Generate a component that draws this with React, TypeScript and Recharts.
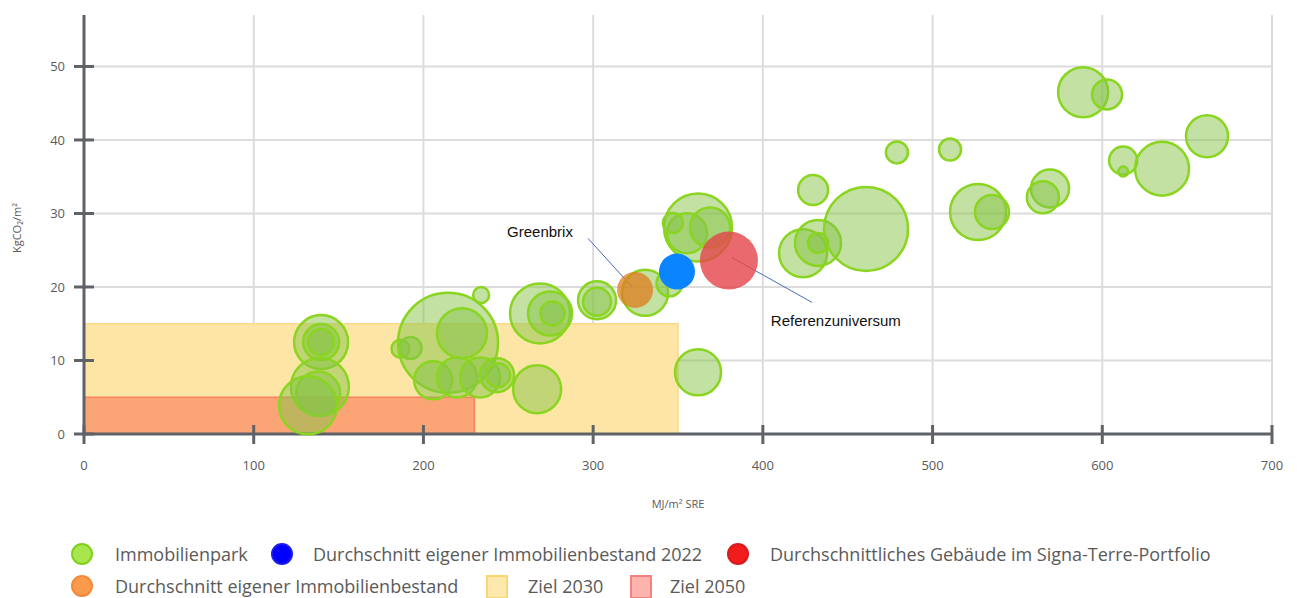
import React from "react";
import {
  ScatterChart,
  Scatter,
  XAxis,
  YAxis,
  ZAxis,
  CartesianGrid,
  ReferenceArea,
  ReferenceLine,
  ReferenceDot,
} from "recharts";

// Immobilienpark: Energie (MJ/m² SRE), Emissionen (KgCO2/m²), Gewicht (Blasengrösse)
const parkEnergy = [
  139.7, 139.7, 139.7, 139, 138, 132, 186.5, 192.4, 214.5, 222.7, 234, 205.7, 219.8, 233.4, 243.4, 244,
  267, 268.7, 274.6, 276, 302.3, 302.3, 330.6, 345, 361.8, 355.3, 368.9, 347, 361.8, 423.7, 432.5, 432.5,
  429.6, 460.8, 479, 510.3, 526.8, 535, 569.2, 565, 588.7, 602.8, 612.3, 612.3, 635.2, 661.7,
];
const parkEmission = [
  12.5, 12.5, 12.5, 6.4, 5.5, 3.9, 11.6, 11.7, 12.4, 13.7, 18.9, 7.3, 7.7, 7.7, 8.0, 8.0,
  6.1, 16.4, 16.4, 16.4, 18.2, 18.0, 19.2, 20.5, 28.1, 27.3, 28.1, 28.7, 8.4, 24.6, 26.0, 26.0,
  33.2, 27.9, 38.3, 38.7, 30.2, 30.2, 33.4, 32.2, 46.5, 46.2, 37.2, 35.7, 36.1, 40.5,
];
const parkWeight = [
  729, 324, 169, 841, 484, 841, 81, 121, 2500, 625, 64, 361, 400, 400, 289, 144,
  576, 900, 484, 144, 361, 196, 529, 169, 1156, 400, 400, 100, 529, 576, 529, 100,
  225, 1764, 121, 121, 784, 289, 361, 256, 625, 225, 196, 25, 729, 441,
];

const avgOwn = [{ x: 324.7, y: 19.6, z: 324 }];
const avgOwn2022 = [{ x: 349.4, y: 22.1, z: 324 }];
const avgReference = [{ x: 380, y: 23.6, z: 841 }];

const xTicks = [0, 100, 200, 300, 400, 500, 600, 700];
const yTicks = [0, 10, 20, 30, 40, 50];

const parkData = parkEnergy.map((x, i) => ({ x, y: parkEmission[i], z: parkWeight[i] }));

const axisColor = "#5f6368";
const textColor = "#5a5a5a";

const XTick = (props: any) => {
  const { x, y, payload } = props;
  return (
    <g>
      <line x1={x} x2={x} y1={y - 9} y2={y + 10} stroke={axisColor} strokeWidth={3} />
      <text x={x} y={y + 36} textAnchor="middle" fill={textColor} fontSize={13} fontFamily="Open Sans">
        {payload.value}
      </text>
    </g>
  );
};

const YTick = (props: any) => {
  const { x, y, payload } = props;
  return (
    <g>
      <line x1={x - 10} x2={x + 10} y1={y} y2={y} stroke={axisColor} strokeWidth={3} />
      <text x={x - 19} y={y + 5} textAnchor="end" fill={textColor} fontSize={13} fontFamily="Open Sans">
        {payload.value}
      </text>
    </g>
  );
};

const Note = (text: string) => (p: any) => (
  <text x={p.cx} y={p.cy} textAnchor="middle" dominantBaseline="middle" fill="#111" fontSize={15} fontFamily="Liberation Sans, Arial">
    {text}
  </text>
);

const YTitle = () => (
  <text
    x={10}
    y={220}
    transform="rotate(-90 10 220)"
    textAnchor="middle"
    dominantBaseline="middle"
    fill={textColor}
    fontSize={11}
    fontFamily="Open Sans"
  >
    KgCO₂/m²
  </text>
);

const LegendCircle = ({ fill, stroke }: { fill: string; stroke: string }) => (
  <svg width={24} height={24} style={{ display: "block" }}>
    <circle cx={12} cy={12} r={10} fill={fill} stroke={stroke} strokeWidth={2} />
  </svg>
);
const LegendSquare = ({ fill, stroke }: { fill: string; stroke: string }) => (
  <svg width={24} height={26} style={{ display: "block" }}>
    <rect x={2} y={2} width={20} height={22} fill={fill} stroke={stroke} strokeWidth={2} />
  </svg>
);

const legendItems = [
  { label: "Immobilienpark", icon: <LegendCircle fill="#a9e64e" stroke="#7fd11b" />, ix: 74, tx: 107, cy: 546 },
  { label: "Durchschnitt eigener Immobilienbestand 2022", icon: <LegendCircle fill="#0000ff" stroke="#1a1aee" />, ix: 274, tx: 305, cy: 546 },
  { label: "Durchschnittliches Gebäude im Signa-Terre-Portfolio", icon: <LegendCircle fill="#f11d1d" stroke="#d81a1a" />, ix: 730, tx: 762, cy: 546 },
  { label: "Durchschnitt eigener Immobilienbestand", icon: <LegendCircle fill="#f99a4c" stroke="#f3893a" />, ix: 74, tx: 107, cy: 578 },
  { label: "Ziel 2030", icon: <LegendSquare fill="#fde9ad" stroke="#fbd773" />, ix: 489, tx: 520, cy: 578 },
  { label: "Ziel 2050", icon: <LegendSquare fill="#fdb4ac" stroke="#f58080" />, ix: 633, tx: 662, cy: 578 },
];

export default function App() {
  return (
    <div style={{ position: "relative", width: 1281, height: 590, background: "#fff" }}>
      <ScatterChart width={1281} height={520} margin={{ top: 7, right: 17, bottom: 0, left: 0 }}>
        <CartesianGrid stroke="#dcdcdc" strokeWidth={2} horizontalValues={yTicks} verticalValues={xTicks.slice(1)} />
        <XAxis
          type="number"
          dataKey="x"
          domain={[0, 700]}
          ticks={xTicks}
          height={94}
          tickSize={0}
          tickMargin={0}
          tick={XTick}
          axisLine={{ stroke: axisColor, strokeWidth: 3 }}
          label={{ value: "MJ/m² SRE", position: "insideBottom", offset: 20, fill: textColor, fontSize: 11, fontFamily: "Open Sans" }}
        />
        <YAxis
          type="number"
          dataKey="y"
          domain={[0, 57]}
          ticks={yTicks}
          width={76}
          tickSize={0}
          tickMargin={0}
          tick={YTick}
          axisLine={{ stroke: axisColor, strokeWidth: 3 }}
          label={{ content: YTitle }}
        />
        <ZAxis type="number" dataKey="z" domain={[0, 2500]} range={[0, 2500 * Math.PI]} />
        <ReferenceArea x1={0} x2={350} y1={0} y2={15} fill="#fde6a5" fillOpacity={1} stroke="#fcd98a" strokeWidth={1.5} />
        <ReferenceArea x1={0} x2={230} y1={0} y2={5} fill="#fba476" fillOpacity={1} stroke="#f88060" strokeWidth={1.5} />
        <Scatter
          name="Immobilienpark"
          data={parkData}
          fill="#86c447"
          fillOpacity={0.5}
          stroke="#8ad51f"
          strokeWidth={2.5}
          isAnimationActive={false}
        />
        <Scatter name="Durchschnitt eigener Immobilienbestand" data={avgOwn} fill="#dd7c1c" fillOpacity={0.75} isAnimationActive={false} />
        <Scatter name="Durchschnitt eigener Immobilienbestand 2022" data={avgOwn2022} fill="#0a84ff" isAnimationActive={false} />
        <Scatter name="Durchschnittliches Gebäude im Signa-Terre-Portfolio" data={avgReference} fill="#e5434b" fillOpacity={0.8} isAnimationActive={false} />
        <ReferenceLine segment={[{ x: 297, y: 26.6 }, { x: 323, y: 20.0 }]} stroke="#4a6db8" strokeWidth={1} />
        <ReferenceLine segment={[{ x: 381.8, y: 24.0 }, { x: 429, y: 17.9 }]} stroke="#4a6db8" strokeWidth={1} />
        <ReferenceDot x={268.7} y={27.4} r={1} shape={Note("Greenbrix")} />
        <ReferenceDot x={443} y={15.2} r={1} shape={Note("Referenzuniversum")} />
      </ScatterChart>
      {legendItems.map((it) => (
        <React.Fragment key={it.label}>
          <div style={{ position: "absolute", left: it.ix - 12, top: it.cy - 12 }}>{it.icon}</div>
          <div
            style={{
              position: "absolute",
              left: it.tx,
              top: it.cy - 12,
              lineHeight: "24px",
              fontSize: 18,
              fontFamily: "Open Sans",
              color: textColor,
              whiteSpace: "nowrap",
            }}
          >
            {it.label}
          </div>
        </React.Fragment>
      ))}
    </div>
  );
}
